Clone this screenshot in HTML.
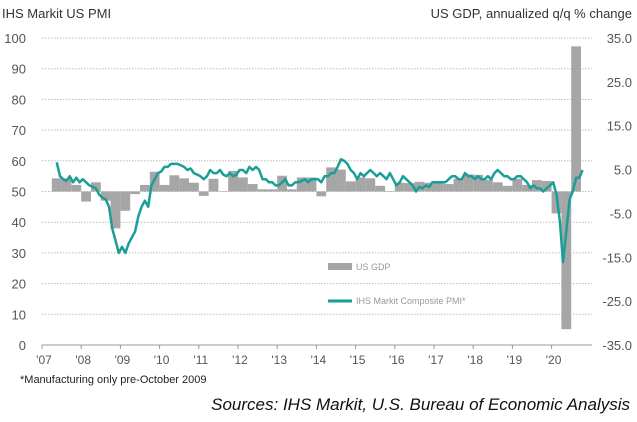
<!DOCTYPE html>
<html><head><meta charset="utf-8"><style>
body{margin:0;background:#fff;font-family:"Liberation Sans",sans-serif;}
svg{display:block}
</style></head><body>
<svg id="c" width="637" height="422">
<text x="2" y="18" font-size="13" fill="#333">IHS Markit US PMI</text>
<text x="632" y="18" font-size="13" fill="#333" text-anchor="end">US GDP, annualized q/q % change</text>
<g id="grid"></g><g id="bars"></g><g id="line"></g><g id="axes"></g>
<g>
<rect x="328" y="263" width="24" height="7" fill="#a6a6a6"/>
<text x="356" y="270" font-size="9" fill="#999">US GDP</text>
<line x1="328" y1="301" x2="352" y2="301" stroke="#1a9e96" stroke-width="3"/>
<text x="356" y="304" font-size="9" fill="#999">IHS Markit Composite PMI*</text>
</g>
<text x="20" y="383" font-size="11" fill="#222">*Manufacturing only pre-October 2009</text>
<text x="630" y="410" font-size="17" font-style="italic" fill="#111" text-anchor="end">Sources: IHS Markit, U.S. Bureau of Economic Analysis</text>
</svg>
<script>
const years=['\'07','\'08','\'09','\'10','\'11','\'12','\'13','\'14','\'15','\'16','\'17','\'18','\'19','\'20'];
const leftTicks=[0,10,20,30,40,50,60,70,80,90,100];
const rightTicks=['-35.0','-25.0','-15.0','-5.0','5.0','15.0','25.0','35.0'];
const gdpStart=2007.25;
const gdp=[3.0,3.0,1.5,-2.3,2.1,-2.1,-8.4,-4.4,-0.6,1.5,4.5,1.5,3.7,3.0,2.0,-1.0,2.9,-0.1,4.7,3.2,1.7,0.5,0.5,3.6,0.5,3.2,3.2,-1.1,5.5,5.0,2.3,3.2,3.0,1.3,0.1,2.0,1.9,2.2,2.0,2.3,1.7,2.9,3.9,3.8,2.7,2.1,1.3,2.9,1.5,2.6,2.4,-5.0,-31.4,33.1];
const pmiStart=2007+4/12;
const pmi=[59.5,55,54,53.5,55,53,54.5,53,
54,53,52,51.5,51,49,48,47.5,45,38,34,30,
32,30,33,35,37,42,45,47,45,52,54,56,
56.5,58,58,59,59,59,58.5,58,57,57.5,56,55.5,
55,54,55,57,56,56,57,55.5,55,56,55,55.5,
57,57,56,58,57,58,57,54,54,53,53,52,
52,53,54,52,52,53,53,53.5,54,53,54,54,
54,53,55,55,56,56,58,60.5,60,59,57,56,
54,56,55,56,57,56,55,56,55,54,56,54,
52,53,55,54,53,52,50,51.5,51,52,51.5,53,
53,53,53,53,54,55,55,54,54,56,55,55,
54,55,54,54,55,54,56,57,56,55,55,54,
54,55,55,54,53,51,52,51,51,50,51,52,
53,49,40.5,27,37,47.5,50,54.5,54.5,57];
const NS='http://www.w3.org/2000/svg';
const X0=42,PX=39.2,Y0=345,YS=3.07,RS=307/70,XR=592;
const x=t=>X0+(t-2007)*PX;
const yl=v=>Y0-v*YS;
const yr=v=>yl(50)-v*RS;
function mk(tag,attrs,parent){const e=document.createElementNS(NS,tag);for(const k in attrs)e.setAttribute(k,attrs[k]);document.getElementById(parent).appendChild(e);return e;}
leftTicks.forEach((v,i)=>{
 if(v>0){const g=mk('line',{x1:X0,x2:XR,y1:yl(v),y2:yl(v),stroke:'#bbb','stroke-dasharray':'1.5 1.5','stroke-width':1},'grid');
 
 }
 const t=mk('text',{x:26,y:yl(v)+5,'font-size':13,fill:'#555','text-anchor':'end'},'axes');t.textContent=v;
 
 
});
rightTicks.forEach((s,i)=>{
 const t=mk('text',{x:632,y:yr(parseFloat(s))+5,'font-size':13,fill:'#555','text-anchor':'end'},'axes');t.textContent=s;
 
 
});
const ax=mk('line',{x1:X0,x2:XR,y1:Y0,y2:Y0,stroke:'#999'},'axes');


years.forEach((s,i)=>{
 const tx=x(2007+i);
 const tk=mk('line',{x1:tx,x2:tx,y1:Y0,y2:Y0+4,stroke:'#999'},'axes');
 
 
 const t=mk('text',{x:tx+2,y:364,'font-size':12,fill:'#555','text-anchor':'middle'},'axes');t.textContent=s;
 
 
});
gdp.forEach((v,i)=>{
 const t=gdpStart+i/4;const a=yr(0),b=yr(v);
 const r=mk('rect',{x:x(t),width:PX/4,y:Math.min(a,b),height:Math.abs(a-b),fill:'#a6a6a6'},'bars');
 
 
});
const pts=pmi.map((v,i)=>x(pmiStart+i/12+1/24).toFixed(1)+','+yl(v).toFixed(1)).join(' ');
const pl=mk('polyline',{points:pts,fill:'none',stroke:'#1a9e96','stroke-width':2.5,'stroke-linejoin':'round'},'line');


</script>
</body></html>
